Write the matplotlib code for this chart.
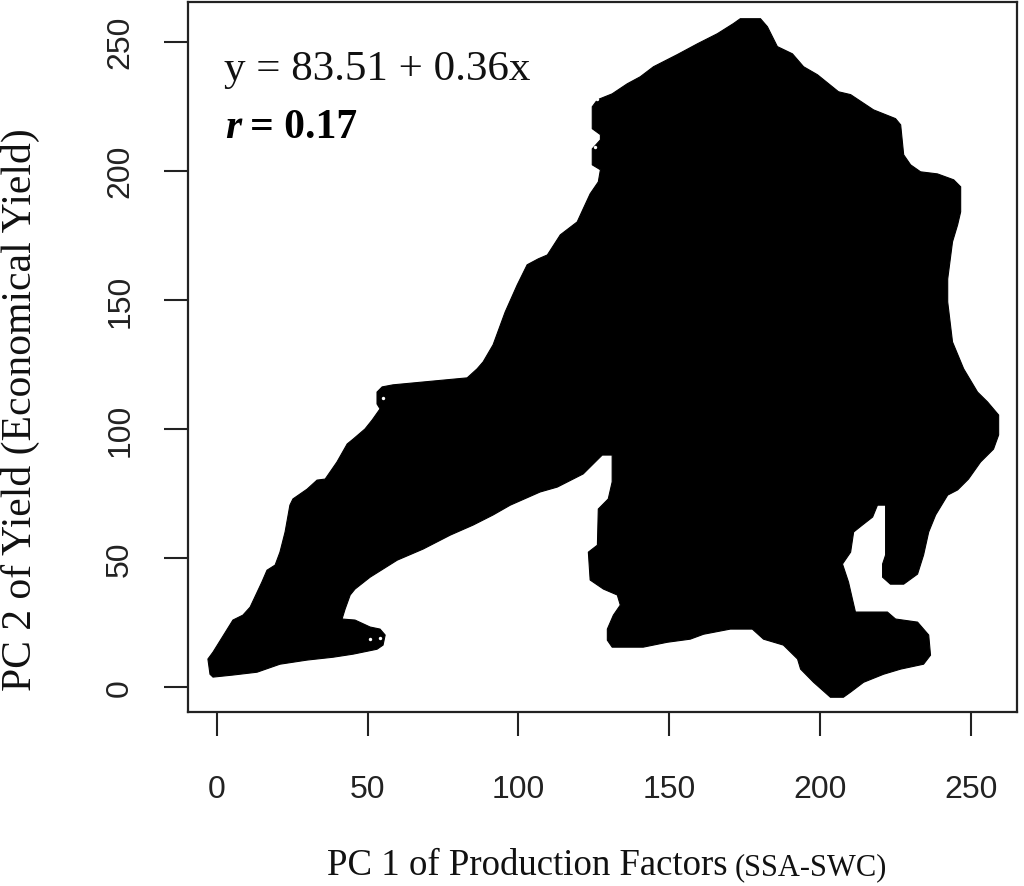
import matplotlib
matplotlib.use("Agg")
import matplotlib.pyplot as plt

# outline of the overplotted point cloud (data units)
outline_x = [-3.0, -1.3, 5.3, 8.6, 11.0, 14.9, 16.6, 19.3, 20.9, 22.6, 24.2, 25.2, 29.9, 33.2, 35.9,
             39.8, 43.2, 45.2, 49.1, 51.5, 54.1, 53.1, 53.1, 54.8, 58.4, 68.4, 83.0, 86.3, 88.3, 91.6,
             95.6, 99.6, 102.9, 106.6, 109.6, 113.9, 119.5, 121.5, 123.8, 126.5, 127.2, 124.5, 124.5, 127.2, 127.2,
             124.5, 124.5, 126.2, 131.1, 136.1, 140.4, 144.8, 152.7, 159.4, 166.0, 171.3, 173.6, 180.3, 182.6, 185.9,
             190.9, 194.6, 199.2, 206.2, 210.2, 217.8, 225.1, 226.8, 227.8, 230.1, 233.4, 239.0, 244.4, 246.7, 246.7,
             245.7, 244.0, 242.4, 242.4, 244.0, 247.7, 252.3, 255.6, 259.3, 259.3, 257.6, 253.3, 249.3, 245.7, 242.4,
             238.4, 236.1, 234.4, 232.4, 227.8, 223.4, 220.8, 220.8, 221.8, 221.8, 219.1, 217.5, 214.1, 211.2, 210.2,
             207.5, 209.5, 210.8, 211.8, 222.4, 225.1, 232.4, 236.1, 236.7, 234.4, 226.8, 221.1, 214.5, 210.2, 207.8,
             203.5, 197.9, 193.6, 192.6, 187.9, 181.3, 177.6, 170.3, 161.4, 157.0, 149.4, 141.4, 131.1, 129.5, 129.5,
             131.5, 133.8, 132.8, 128.2, 123.8, 123.2, 126.2, 126.5, 129.8, 131.1, 131.1, 127.8, 126.5, 121.5, 112.9,
             107.2, 97.3, 91.6, 85.0, 77.4, 68.4, 59.8, 50.8, 45.8, 44.2, 42.5, 41.5, 45.8, 50.8, 54.1,
             55.8, 55.1, 53.1, 45.2, 38.5, 29.9, 20.9, 13.3, 5.3, -1.3, -2.3]
outline_y = [10.9, 13.6, 26.0, 27.9, 31.0, 40.7, 45.3, 47.3, 52.3, 60.1, 70.5, 72.9, 76.7, 80.2, 80.6,
             87.2, 94.2, 96.1, 100.0, 103.5, 107.8, 109.7, 114.3, 116.3, 117.1, 118.2, 119.8, 123.3, 126.0, 132.6,
             145.3, 155.8, 163.6, 165.9, 167.4, 175.2, 180.2, 185.3, 191.1, 195.7, 200.4, 202.3, 208.5, 212.0, 214.0,
             216.3, 224.8, 227.5, 229.8, 233.7, 236.4, 240.3, 245.0, 249.2, 253.1, 257.0, 258.9, 258.9, 255.8, 248.1,
             245.3, 240.3, 237.2, 230.6, 229.5, 223.6, 220.2, 217.8, 206.2, 202.3, 199.6, 198.8, 196.5, 193.8, 184.1,
             179.1, 172.5, 158.1, 149.2, 133.7, 123.3, 114.3, 110.5, 105.4, 97.7, 92.2, 87.2, 80.6, 76.4, 74.4,
             66.7, 60.1, 51.2, 43.8, 39.9, 39.9, 42.6, 47.7, 51.2, 70.5, 70.5, 65.9, 62.8, 60.1, 52.3,
             47.7, 40.7, 34.1, 29.1, 29.1, 26.4, 25.2, 20.2, 12.4, 8.9, 7.0, 5.0, 1.9, -1.9, -3.9,
             -3.9, 1.9, 7.0, 10.9, 16.3, 18.6, 22.5, 22.5, 20.5, 18.6, 17.4, 15.5, 15.5, 18.2, 22.5,
             27.9, 31.8, 35.7, 38.0, 41.5, 52.3, 55.0, 69.0, 72.9, 79.5, 89.9, 89.9, 88.4, 82.6, 77.5,
             75.6, 70.5, 66.7, 62.8, 58.9, 53.5, 49.2, 42.6, 38.0, 35.7, 30.2, 26.4, 26.0, 23.3, 22.5,
             20.2, 16.3, 14.7, 12.8, 11.6, 10.5, 8.9, 5.8, 4.7, 3.9, 5.0]

# lone open circles on the edge of the cloud
hole_x = [50.8, 54.1, 55.1, 126.2, 125.5]
hole_y = [18.6, 19.0, 112.0, 227.9, 209.3]

x_ticks = [0, 50, 100, 150, 200, 250]
y_ticks = [0, 50, 100, 150, 200, 250]
lims = (-9.6, 265.4)

eq_text = "y = 83.51 + 0.36x"
r_value = "= 0.17"
xlab_main = "PC 1 of Production Factors"
xlab_small = "(SSA-SWC)"
ylab = "PC 2 of Yield (Economical Yield)"

serif = "Liberation Serif"
sans = "Liberation Sans"

fig = plt.figure(figsize=(10.24, 8.87), dpi=100)
ax = fig.add_axes([0.1836, 0.1962, 0.8096, 0.8005])

ax.fill(outline_x, outline_y, color="black", lw=0.8, edgecolor="black")
ax.scatter(hole_x, hole_y, s=6, color="white", zorder=3, linewidths=0)

ax.set_xlim(lims)
ax.set_ylim(lims)
ax.set_xticks(x_ticks)
ax.set_yticks(y_ticks)
ax.tick_params(axis="both", direction="out", length=17, width=1.5, color="#222222")
ax.tick_params(axis="x", pad=28)
ax.tick_params(axis="y", pad=21)
for lab in ax.get_xticklabels():
    lab.set_fontfamily(sans)
    lab.set_fontsize(23)
    lab.set_color("#222222")
for lab in ax.get_yticklabels():
    lab.set_fontfamily(sans)
    lab.set_fontsize(23)
    lab.set_color("#222222")
    lab.set_rotation(90)
    lab.set_va("center")
for sp in ax.spines.values():
    sp.set_linewidth(1.6)
    sp.set_color("#222222")

# equation and correlation
ax.text(2.3, 235.7, eq_text, fontfamily=serif, fontsize=31, va="baseline", ha="left", color="#111111")
ax.text(2.6, 213.2, "r", fontfamily=serif, fontsize=30, fontweight="bold", fontstyle="italic",
        va="baseline", ha="left")
ax.text(11.0, 213.2, r_value, fontfamily=serif, fontsize=30, fontweight="bold", va="baseline", ha="left")

# axis labels
fig.text(728 / 1024, 0.0135, xlab_main, fontfamily=serif, fontsize=26.5, ha="right", va="baseline",
         color="#111111")
fig.text(735 / 1024, 0.0135, xlab_small, fontfamily=serif, fontsize=22, ha="left", va="baseline",
         color="#111111")
ax.set_ylabel(ylab, fontfamily=serif, fontsize=30, color="#111111")
ax.yaxis.label.set_va("center")
ax.yaxis.set_label_coords(-0.2017, 0.427)

fig.savefig("out.png", dpi=100)
